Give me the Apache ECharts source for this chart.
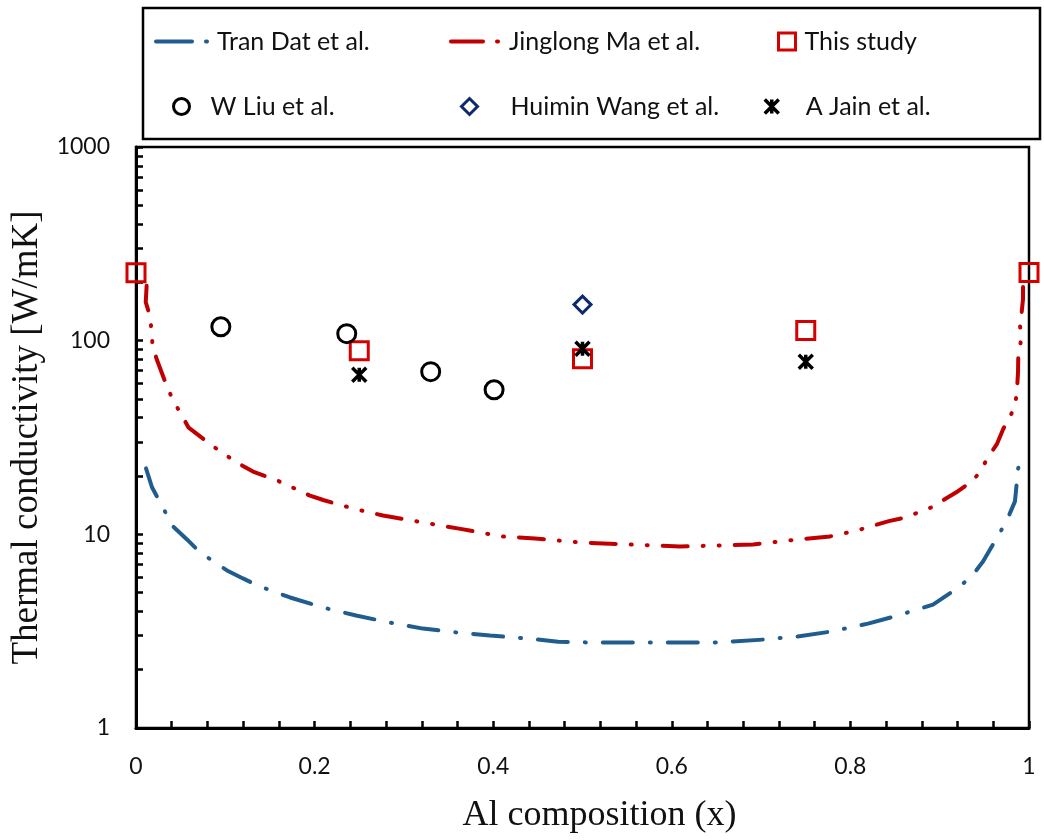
<!DOCTYPE html>
<html><head><meta charset="utf-8">
<script src="https://cdn.jsdelivr.net/npm/echarts@6/dist/echarts.min.js"></script>
<style>html,body{margin:0;padding:0;background:#fff}#c{width:1044px;height:840px}</style>
</head><body><div id="c"></div>
<script>
// Tran Dat et al. (model curve)
const tranDat = [[0.0112,21.9],[0.0179,17.5],[0.0414,11.0],[0.0571,9.41],[0.0717,8.06],[0.1019,6.51],[0.1198,5.92],[0.1389,5.38],[0.1725,4.72],[0.2094,4.19],[0.2464,3.81],[0.2844,3.50],[0.3214,3.26],[0.3606,3.11],[0.3964,3.00],[0.4378,2.90],[0.4726,2.79],[0.514,2.76],[0.59,2.76],[0.646,2.76],[0.702,2.86],[0.741,2.97],[0.779,3.15],[0.8197,3.46],[0.8533,3.81],[0.8925,4.34],[0.9227,5.38],[0.9373,6.20],[0.9485,7.24],[0.9675,10.2],[0.9765,12.2],[0.9843,14.8],[0.9877,21.7],[0.9922,26.8]];
// Jinglong Ma et al. (model curve)
const jinglongMa = [[0.0119,192],[0.0109,158],[0.0150,137],[0.0175,113],[0.0185,94],[0.0232,80.2],[0.0344,58.4],[0.0418,48.8],[0.0512,41.3],[0.0586,35.7],[0.0862,28.5],[0.1008,25.6],[0.1142,23.3],[0.131,21.1],[0.160,18.8],[0.177,17.3],[0.194,15.9],[0.2105,15.0],[0.243,13.6],[0.2766,12.5],[0.327,11.4],[0.3617,10.7],[0.41,9.75],[0.4468,9.52],[0.497,9.08],[0.551,8.87],[0.609,8.66],[0.655,8.76],[0.691,8.87],[0.741,9.41],[0.777,9.75],[0.8085,10.5],[0.843,11.7],[0.861,12.2],[0.891,13.8],[0.9205,16.7],[0.936,18.8],[0.945,20.9],[0.954,25.0],[0.964,29.2],[0.971,34.9],[0.9787,40.7],[0.9843,45.3],[0.9866,56.1],[0.9877,68.7],[0.9880,83.2],[0.9918,105.5],[0.9892,124.7],[0.9918,140],[0.9933,164],[0.9933,200]];
// Measured / reported points
const thisStudy = [[0,224],[0.25,88.8],[0.5,80.7],[0.75,112.7],[1,225]];
const wLiu = [[0.095,118],[0.236,108.7],[0.330,69.2],[0.401,55.8]];
const huiminWang = [[0.5,153.5]];
const aJain = [[0.25,66.7],[0.5,90.9],[0.75,77.9]];
// Axis ticks
const xTickLabels = [0,0.2,0.4,0.6,0.8,1];
const yTickValues = [1,2,3,4,5,6,7,8,9,10,20,30,40,50,60,70,80,90,100,200,300,400,500,600,700,800,900,1000];

const BLUE = '#215C8E', RED = '#C00000', SQ = '#D40000', NAVY = '#0D2A6B';
const asterisk = 'path://M0,0 L10,10 M10,0 L0,10 M5,0 L5,10';
const legFont = {fontFamily: 'Lato', fontSize: 25, color: '#111'};

const chart = echarts.init(document.getElementById('c'), null, {renderer: 'canvas'});
function leg(name, left, top, opts) {
  return Object.assign({
    data: [name], left: left, top: top, orient: 'horizontal', padding: 0,
    itemWidth: 20, itemHeight: 18, textStyle: Object.assign({}, legFont), selectedMode: false
  }, opts || {});
}
function symLeg(name, left, top, size, pad, bw) {
  return leg(name, left, top, {itemWidth: size, itemHeight: size,
    itemStyle: {borderWidth: bw, opacity: 1},
    textStyle: Object.assign({}, legFont, {padding: [0,0,0,pad]})});
}
chart.setOption({
  animation: false,
  backgroundColor: '#fff',
  grid: {left: 136, right: 15, top: 147, bottom: 112, show: true, borderColor: '#000', borderWidth: 2.5},
  graphic: [{type: 'rect', shape: {x: 143, y: 8, width: 897, height: 131}, style: {fill: 'none', stroke: '#000', lineWidth: 2.5}, z: 10}],
  legend: [
    leg('Tran Dat et al.', 154, 29, {itemWidth: 56, itemHeight: 12, itemStyle: {opacity: 0},
      lineStyle: {type: [36, 14, 1, 14], width: 4, cap: 'round', opacity: 1}}),
    leg('Jinglong Ma et al.', 449, 29, {itemWidth: 53, itemHeight: 12, itemStyle: {opacity: 0},
      lineStyle: {type: [32, 14, 1, 14], width: 4, cap: 'round', opacity: 1}}),
    symLeg('This study', 777, 29, 17, 4, 3),
    symLeg('W Liu et al.', 172, 94, 16, 16, 3),
    symLeg('Huimin Wang et al.', 460, 94, 16, 28, 3),
    symLeg('A Jain et al.', 763, 94, 14, 22, 3.5)
  ],
  xAxis: {
    type: 'value', min: 0, max: 1, interval: 0.2,
    name: 'Al composition (x)', nameLocation: 'middle', nameGap: 70,
    nameTextStyle: {fontFamily: 'Liberation Serif', fontSize: 36, color: '#111', padding: [0,0,0,34]},
    axisLine: {show: true, lineStyle: {color: '#000', width: 3}},
    axisTick: {show: true, inside: true, length: 7, lineStyle: {color: '#000', width: 2.5}},
    minorTick: {show: true, splitNumber: 5, length: 7, lineStyle: {color: '#000', width: 2.5}},
    axisLabel: {margin: 27, fontFamily: 'Lato', fontSize: 23, color: '#111',
      customValues: xTickLabels, formatter: v => String(v)},
    splitLine: {show: false}
  },
  yAxis: {
    type: 'log', logBase: 10, min: 1, max: 1000,
    name: 'Thermal conductivity [W/mK]', nameLocation: 'middle', nameGap: 82,
    nameTextStyle: {fontFamily: 'Liberation Serif', fontSize: 37, color: '#111'},
    axisLine: {show: true, lineStyle: {color: '#000', width: 3}},
    axisTick: {show: true, inside: true, length: 7, lineStyle: {color: '#000', width: 2.5}, customValues: yTickValues},
    axisLabel: {margin: 26, fontFamily: 'Lato', fontSize: 23, color: '#111', formatter: v => String(v)},
    splitLine: {show: false}, minorTick: {show: false}
  },
  series: [
    {name: 'Tran Dat et al.', type: 'line', data: tranDat, symbol: 'none', showSymbol: false,
      lineStyle: {color: BLUE, width: 4, type: [30, 17, 1, 17], cap: 'round'}, itemStyle: {color: BLUE}, z: 3},
    {name: 'Jinglong Ma et al.', type: 'line', data: jinglongMa, symbol: 'none', showSymbol: false,
      lineStyle: {color: RED, width: 4, type: [25, 15, 1, 15, 1, 15], cap: 'round'}, itemStyle: {color: RED}, z: 3},
    {name: 'This study', type: 'scatter', data: thisStudy, symbol: 'rect', symbolSize: 18,
      itemStyle: {color: 'rgba(255,255,255,0)', borderColor: SQ, borderWidth: 3, opacity: 1}, z: 5},
    {name: 'W Liu et al.', type: 'scatter', data: wLiu, symbol: 'circle', symbolSize: 18,
      itemStyle: {color: 'rgba(255,255,255,0)', borderColor: '#000', borderWidth: 3, opacity: 1}, z: 5},
    {name: 'Huimin Wang et al.', type: 'scatter', data: huiminWang, symbol: 'diamond', symbolSize: 17,
      itemStyle: {color: 'rgba(255,255,255,0)', borderColor: NAVY, borderWidth: 3, opacity: 1}, z: 5},
    {name: 'A Jain et al.', type: 'scatter', data: aJain, symbol: asterisk, symbolSize: 14,
      itemStyle: {color: '#000', borderColor: '#000', borderWidth: 3.5, opacity: 1}, z: 6}
  ]
});
</script></body></html>
